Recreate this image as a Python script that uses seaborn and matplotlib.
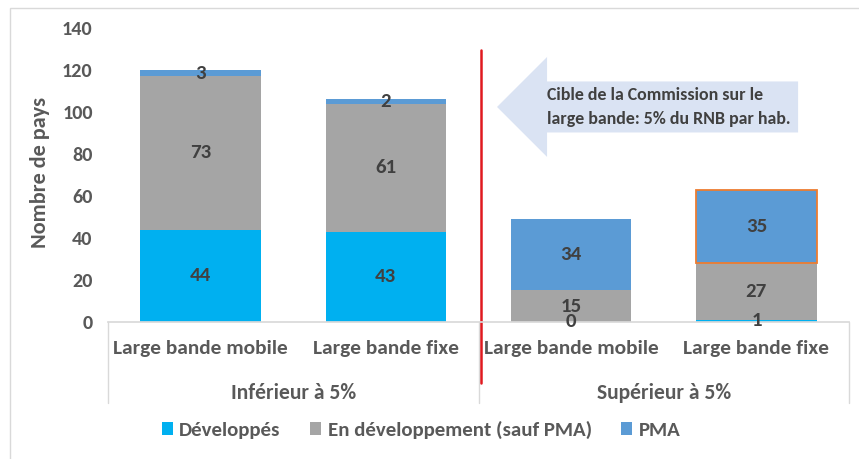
import numpy as np
import seaborn as sns
import matplotlib.pyplot as plt
import matplotlib.patches as mpatches

# data
bar_keys = ['inf_mobile', 'inf_fixe', 'sup_mobile', 'sup_fixe']
tick_labels = ['Large bande mobile', 'Large bande fixe', 'Large bande mobile', 'Large bande fixe']
groups = ['Inférieur à 5%', 'Supérieur à 5%']
series = ['Développés', 'En développement (sauf PMA)', 'PMA']
developpes = [44, 43, 0, 1]
en_dev = [73, 61, 15, 27]
pma = [3, 2, 34, 35]
colors = ['#00B0F0', '#A5A5A5', '#5B9BD5']

sns.set_theme(style='white')
plt.rcParams['font.family'] = ['Carlito', 'Lato', 'DejaVu Sans']
grey_txt = '#595959'

fig = plt.figure(figsize=(8.59, 4.59), dpi=100)
ax = fig.add_axes([0.1257, 0.2985, 0.8627, 0.6405])

bottom = np.zeros(len(bar_keys))
for name, vals, col in zip(series, [developpes, en_dev, pma], colors):
    sns.barplot(x=bar_keys, y=vals, order=bar_keys, color=col, saturation=1,
                width=0.65, bottom=bottom.copy(), linewidth=0, label=name, ax=ax)
    bottom += np.array(vals)

for c in ax.containers:
    ax.bar_label(c, label_type='center', fontsize=15, fontweight='bold', color='#404040')

# orange outline on the last PMA segment
last = ax.containers[2].patches[3]
last.set_edgecolor('#ED7D31')
last.set_linewidth(1.3)

ax.set_ylim(0, 140)
ax.set_xlim(-0.5, 3.5)
ax.set_yticks(range(0, 141, 20))
ax.tick_params(axis='y', length=0, pad=11, labelsize=14.5, labelcolor=grey_txt)
for t in ax.get_yticklabels():
    t.set_fontweight('bold')
ax.set_xticks(range(4))
ax.set_xticklabels(tick_labels, fontsize=15.4, fontweight='bold', color=grey_txt)
ax.tick_params(axis='x', length=0, pad=13)
ax.set_xlabel('')
ax.set_ylabel('Nombre de pays', fontsize=16, fontweight='bold', color=grey_txt)
ax.yaxis.set_label_coords(-0.078, 0.51)

for s in ['left', 'top', 'right']:
    ax.spines[s].set_visible(False)
ax.spines['bottom'].set_color('#D9D9D9')

xt = ax.get_xaxis_transform()
for x in [-0.5, 1.5, 3.5]:
    ax.plot([x, x], [0, -0.275], transform=xt, color='#D9D9D9', lw=1, clip_on=False)
for i, g in enumerate(groups):
    ax.text(2 * i + 0.5, -0.242, g, transform=xt, ha='center', va='center',
            fontsize=15.6, fontweight='bold', color=grey_txt)

# red threshold line
ax.plot([1.514, 1.514], [-0.207, 0.925], transform=xt, color='#E0191F', lw=1.8, clip_on=False)

# annotation arrow
arrow = mpatches.FancyArrow(3.225, 102.4, -1.625, 0, width=24.3, head_width=47.6,
                            head_length=0.27, length_includes_head=True,
                            color='#DAE3F3', lw=0)
ax.add_patch(arrow)
ax.text(1.87, 102.4, 'Cible de la Commission sur le\nlarge bande: 5% du RNB par hab.',
        ha='left', va='center', fontsize=12.9, fontweight='bold', color='#404040',
        linespacing=1.55)

handles, labels = ax.get_legend_handles_labels()
if ax.get_legend() is not None:
    ax.get_legend().remove()
fig.legend(handles, labels, loc='center', bbox_to_anchor=(0.49, 0.064), ncol=3,
           frameon=False, handlelength=0.55, handleheight=0.55, handletextpad=0.3,
           columnspacing=1.4, prop={'size': 15, 'weight': 'bold'}, labelcolor=grey_txt)

fig.add_artist(mpatches.Rectangle((10 / 859, -0.1), 1, 1.0826, transform=fig.transFigure,
                                  fill=False, edgecolor='#D9D9D9', lw=1))

fig.savefig('out.png', dpi=100)
